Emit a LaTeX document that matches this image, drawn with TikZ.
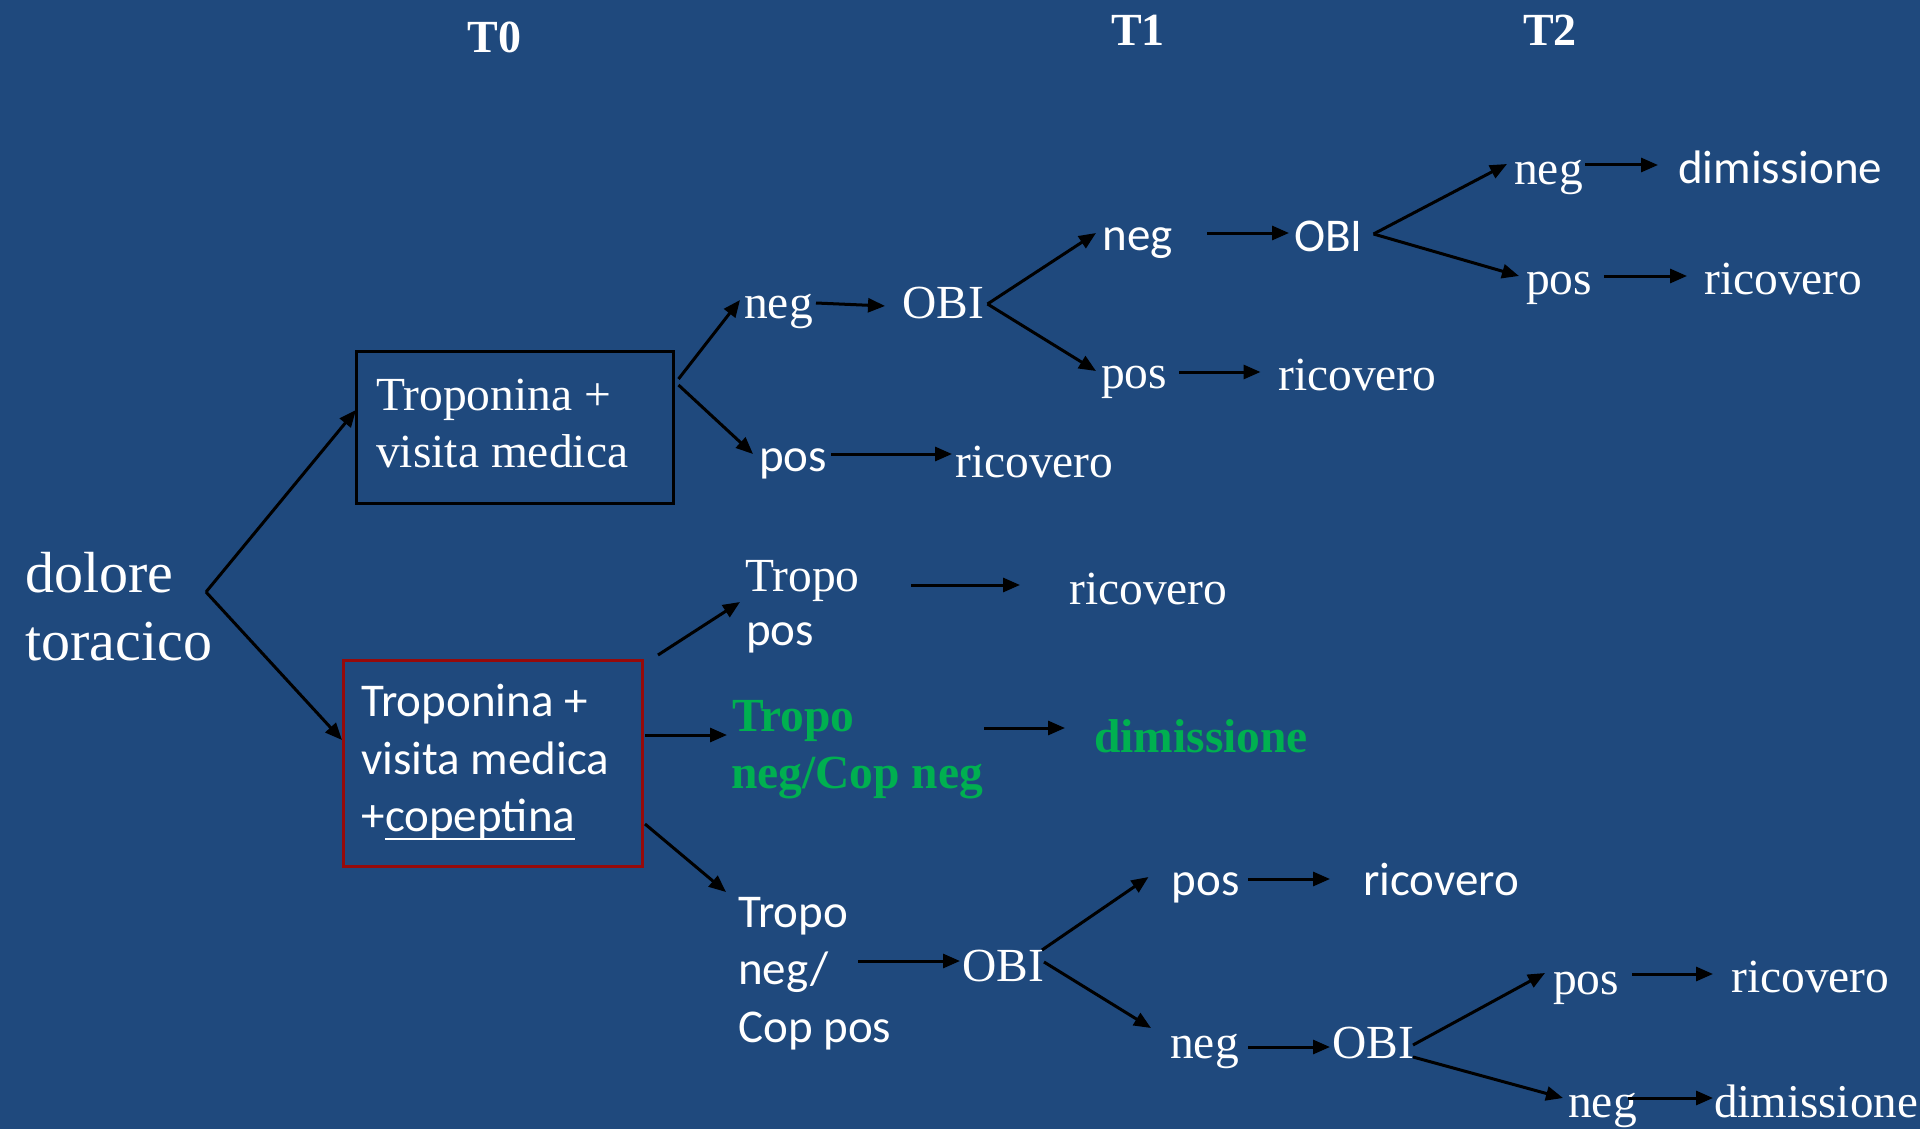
\documentclass[tikz,border=0pt]{standalone}
\usepackage{fontspec}
\setmainfont{Liberation Serif}
\newfontfamily\calfont{Carlito}
\usetikzlibrary{arrows.meta}
\definecolor{bg}{RGB}{31,73,125}
\definecolor{grn}{RGB}{0,176,80}
\definecolor{boxred}{RGB}{150,10,10}
\begin{document}
\begin{tikzpicture}[x=1pt,y=-1pt,
  tm/.style={inner sep=0pt, anchor=base west, text=white, font=\fontsize{47.5}{56}\selectfont},
  cb/.style={tm, font=\calfont\fontsize{47}{56}\selectfont},
  gb/.style={inner sep=0pt, anchor=base west, text=grn, font=\bfseries\fontsize{47.5}{56}\selectfont},
  hd/.style={inner sep=0pt, anchor=base, text=white, font=\bfseries\fontsize{46}{54}\selectfont},
  arr/.style={line width=3pt, draw=black, -{Triangle[length=17pt,width=14pt]}},
  box/.style={inner sep=0pt, outer sep=0pt, anchor=north west, line width=3pt}
]
\fill[bg] (0,0) rectangle (1920,1129);
\useasboundingbox (0,0) rectangle (1920,1129);

% headers
\node[hd] (T0) at (494.5,52.5) {T0};
\node[hd] (T1) at (1138,46) {T1};
\node[hd] (T2) at (1550,46) {T2};

% root
\node[tm, font=\fontsize{58}{68}\selectfont] (dol) at (25,592) {dolore};
\node[tm, font=\fontsize{58}{68}\selectfont] (tor) at (25,660) {toracico};

% boxes
\node[box, draw=black, minimum width=317pt, minimum height=152pt] (boxA) at (356,351) {};
\node[tm] (a1) at (376,410) {Troponina +};
\node[tm] (a2) at (376,467) {visita medica};

\node[box, draw=boxred, minimum width=299pt, minimum height=206pt] (boxB) at (343,660) {};
\node[cb] (b1) at (361,716) {Troponina +};
\node[cb] (b2) at (361,774) {visita medica};
\node[cb] (b3) at (361,831) {+};
\node[cb, anchor=base west] (b4) at (b3.base east) {copeptina};
\draw[white, line width=2.5pt] ([yshift=-8pt]b4.base west) -- ([yshift=-8pt]b4.base east);

% top branch
\node[tm] (neg1) at (744,318) {neg};
\node[tm] (obi1) at (902,318) {OBI};
\node[cb] (pos1) at (759,471) {pos};
\node[tm] (ric1) at (955,477) {ricovero};
\node[cb] (negT1) at (1102.5,250) {neg};
\node[cb] (obiT1) at (1294,251) {OBI};
\node[tm] (posT1) at (1101,388) {pos};
\node[tm] (ricT1) at (1278,390) {ricovero};
\node[tm] (negT2) at (1514,184) {neg};
\node[cb] (dimT2) at (1678,183) {dimissione};
\node[tm] (posT2) at (1526,294) {pos};
\node[tm] (ricT2) at (1704,294) {ricovero};

% middle
\node[tm] (tp1) at (745,591) {Tropo};
\node[cb] (tp2) at (746,645) {pos};
\node[tm] (ricM) at (1069,604) {ricovero};
\node[gb] (g1) at (732,731) {Tropo};
\node[gb] (g2) at (731,788) {neg/Cop neg};
\node[gb] (gdim) at (1094,752) {dimissione};

% bottom
\node[cb] (c1) at (738,927) {Tropo};
\node[cb] (c2) at (738,984) {neg/};
\node[cb] (c3) at (738,1042.6) {Cop pos};
\node[tm] (obiB) at (962,981) {OBI};
\node[cb] (posB) at (1171.5,895) {pos};
\node[cb] (ricB) at (1363,895) {ricovero};
\node[tm] (negB) at (1170,1058) {neg};
\node[tm] (obiC) at (1332,1058) {OBI};
\node[tm] (posC) at (1553,994) {pos};
\node[tm] (ricC) at (1731,992) {ricovero};
\node[tm] (negC) at (1568,1117) {neg};
\node[tm, font=\fontsize{47}{56}\selectfont] (dimC) at (1714,1117) {dimissione};

% connectors
\coordinate (split) at ([shift={(181,0)}]dol.base west);
\draw[arr] (split) -- ([shift={(0,-17)}]boxA.west);
\draw[arr] (split) -- ([shift={(-1,-23)}]boxB.west);

\draw[arr] ([shift={(5.5,-48)}]boxA.east) -- ([shift={(-4,-18)}]neg1.base west);
\draw[arr] ([shift={(5.5,-42)}]boxA.east) -- ([shift={(-6,-17)}]pos1.base west);
\draw[arr] ([shift={(72,-15)}]neg1.base west) -- ([shift={(-17,-12)}]obi1.base west);
\draw[arr] ([shift={(72,-17)}]pos1.base west) -- ([shift={(-3,-23)}]ric1.base west);
\coordinate (o1) at ([shift={(85.5,-14)}]obi1.base west);
\draw[arr] (o1) -- ([shift={(-6.5,-17)}]negT1.base west);
\draw[arr] (o1) -- ([shift={(-5,-17)}]posT1.base west);
\draw[arr] ([shift={(104.5,-17)}]negT1.base west) -- ([shift={(-5,-18)}]obiT1.base west);
\draw[arr] ([shift={(78,-16)}]posT1.base west) -- ([shift={(-17.5,-18)}]ricT1.base west);
\coordinate (o2) at ([shift={(79.5,-17)}]obiT1.base west);
\draw[arr] (o2) -- ([shift={(-7,-20)}]negT2.base west);
\draw[arr] (o2) -- ([shift={(-7,-18)}]posT2.base west);
\draw[arr] ([shift={(71,-19)}]negT2.base west) -- ([shift={(-20,-18)}]dimT2.base west);
\draw[arr] ([shift={(78,-18)}]posT2.base west) -- ([shift={(-17,-18)}]ricT2.base west);

\draw[arr] ([shift={(16,-5)}]boxB.north east) -- ([shift={(-5,11)}]tp1.base west);
\draw[arr] ([shift={(3,-28)}]boxB.east) -- ([shift={(-5,4)}]g1.base west);
\draw[arr] ([shift={(3,61)}]boxB.east) -- ([shift={(-12,-35)}]c1.base west);
\draw[arr] ([shift={(166,-6)}]tp1.base west) -- ([shift={(-49,-19)}]ricM.base west);
\draw[arr] ([shift={(252,-3)}]g1.base west) -- ([shift={(-29,-24)}]gdim.base west);

\draw[arr] ([shift={(120,-23)}]c2.base west) -- ([shift={(-2,-20)}]obiB.base west);
\draw[arr] ([shift={(80,-31)}]obiB.base west) -- ([shift={(-23,-18)}]posB.base west);
\draw[arr] ([shift={(82,-19)}]obiB.base west) -- ([shift={(-19,-30)}]negB.base west);
\draw[arr] ([shift={(76.5,-16)}]posB.base west) -- ([shift={(-33,-16)}]ricB.base west);
\draw[arr] ([shift={(78,-11)}]negB.base west) -- ([shift={(-2,-11)}]obiC.base west);
\draw[arr] ([shift={(81,-13)}]obiC.base west) -- ([shift={(-8,-21)}]posC.base west);
\draw[arr] ([shift={(81,-1)}]obiC.base west) -- ([shift={(-5,-19)}]negC.base west);
\draw[arr] ([shift={(79,-20)}]posC.base west) -- ([shift={(-18,-18)}]ricC.base west);
\draw[arr] ([shift={(60,-19)}]negC.base west) -- ([shift={(-1,-19)}]dimC.base west);
\end{tikzpicture}
\end{document}
